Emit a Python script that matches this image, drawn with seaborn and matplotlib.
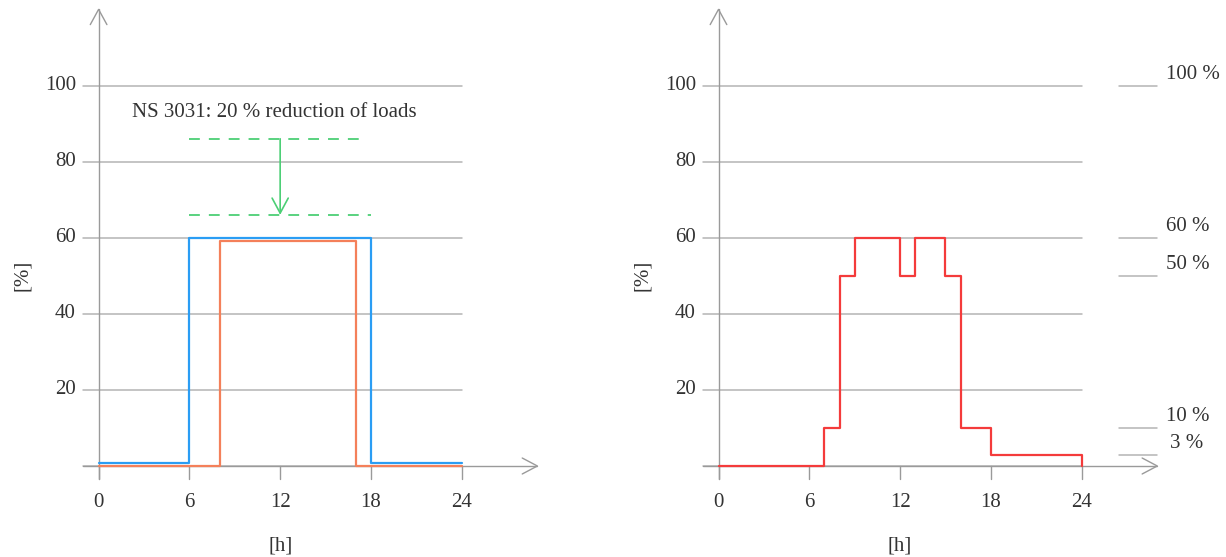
import numpy as np
import pandas as pd
import matplotlib
matplotlib.use("Agg")
import matplotlib.pyplot as plt
import seaborn as sns

# ---- data -------------------------------------------------------------
hours_ref = [0, 6, 18, 24]
load_ref = [0.8, 60, 0.8, 0.8]          # reference schedule (blue)

hours_red = [0, 8, 17, 24]
load_red = [0, 59.2, 0, 0]              # reduced schedule (orange)

hours_profile = [0, 7, 8, 9, 12, 13, 15, 16, 18, 24, 24]
load_profile = [0, 10, 50, 60, 50, 60, 50, 10, 3, 3, 0]

level_marks = [100, 60, 50, 10, 3]
level_labels = ["100 %", "60 %", "50 %", "10 %", "3 %"]

y_ticks = [20, 40, 60, 80, 100]
x_ticks = [0, 6, 12, 18, 24]

nsref_upper, nsref_lower = 86, 66
note_text = "NS 3031: 20 % reduction of loads"

# ---- style ------------------------------------------------------------
sns.set_theme(style="white")
plt.rcParams["font.family"] = ["Liberation Serif", "DejaVu Serif"]
TXT = "#333333"
GRID = "#b4b4b4"
AX = "#9a9a9a"
FS = 15

fig = plt.figure(figsize=(12.26, 5.57), dpi=100)
W, H = 1226, 557
PX_H = 15.13      # pixels per hour
PX_V = 3.805      # pixels per percent
Y0 = 466          # pixel row of zero


def make_axes(left_px, width_px, zero_px):
    ax = fig.add_axes([left_px / W, 0, width_px / W, 1])
    ax.set_xlim((left_px - zero_px) / PX_H, (left_px + width_px - zero_px) / PX_H)
    ax.set_ylim(-(H - Y0) / PX_V, Y0 / PX_V)
    ax.axis("off")
    return ax


def frame(ax, x_end):
    # horizontal grid and its left stubs
    for v in [0] + y_ticks:
        ax.plot([-1, 24], [v, v], color=GRID, lw=1.1, zorder=1)
    for v in y_ticks:
        ax.text(-1.5, v, str(v), ha="right", va="center", fontsize=FS, color=TXT)
    # x axis with open chevron
    ax.plot([-1, x_end], [0, 0], color=AX, lw=1.0, zorder=1)
    ax.plot([x_end - 1.0, x_end, x_end - 1.0], [2.1, 0, -2.1], color=AX, lw=1.0)
    # y axis with open chevron
    ax.plot([0, 0], [-3.3, 120], color=AX, lw=1.0, zorder=1)
    ax.plot([-0.55, 0, 0.55], [116.0, 120, 116.0], color=AX, lw=1.0)
    for t in x_ticks:
        ax.plot([t, t], [0, -3.3], color=AX, lw=1.0, zorder=1)
        ax.text(t, -9.6, str(t), ha="center", va="center", fontsize=FS, color=TXT)
    ax.text(12, -21.0, "[h]", ha="center", va="center", fontsize=FS, color=TXT)
    ax.text(-5.05, 50, "[%]", ha="center", va="center", rotation=90,
            fontsize=FS, color=TXT)


# ---- left panel ---------------------------------------------------------
axL = make_axes(0, 560, 98.6)
frame(axL, 29)

df_ref = pd.DataFrame({"h": hours_ref, "load": load_ref})
df_red = pd.DataFrame({"h": hours_red, "load": load_red})
sns.lineplot(data=df_ref, x="h", y="load", ax=axL, color="#2a9df4",
             lw=1.6, drawstyle="steps-post", zorder=4)
sns.lineplot(data=df_red, x="h", y="load", ax=axL, color="#f4805a",
             lw=1.6, drawstyle="steps-post", zorder=3)
axL.axis("off")

green = "#4ccf75"
axL.plot([6, 17.2], [nsref_upper, nsref_upper], color=green, lw=1.3,
         dashes=(6, 5), zorder=3)
axL.plot([6, 18], [nsref_lower, nsref_lower], color=green, lw=1.3,
         dashes=(6, 5), zorder=3)
axL.annotate("", xy=(12, nsref_lower), xytext=(12, nsref_upper),
             arrowprops=dict(arrowstyle="->,head_length=0.54,head_width=0.29",
                             color=green, lw=1.2,
                             mutation_scale=20, shrinkA=0, shrinkB=0))
axL.text(11.6, 92.8, note_text, ha="center", va="center", fontsize=FS, color=TXT)

# ---- right panel --------------------------------------------------------
axR = make_axes(620, 606, 718.5)
frame(axR, 29)

df_prof = pd.DataFrame({"h": hours_profile, "load": load_profile})
sns.lineplot(data=df_prof, x="h", y="load", ax=axR, color="#f43b3b",
             lw=1.6, drawstyle="steps-post", zorder=4, estimator=None, sort=False)
axR.axis("off")

for v, lab in zip(level_marks, level_labels):
    axR.plot([26.5, 29.0], [v, v], color=GRID, lw=1.1)
    axR.text(29.55 if len(lab) > 3 else 29.85, v + 3.0, lab,
             ha="left", va="center", fontsize=FS, color=TXT)

fig.savefig("out.png", dpi=100)
